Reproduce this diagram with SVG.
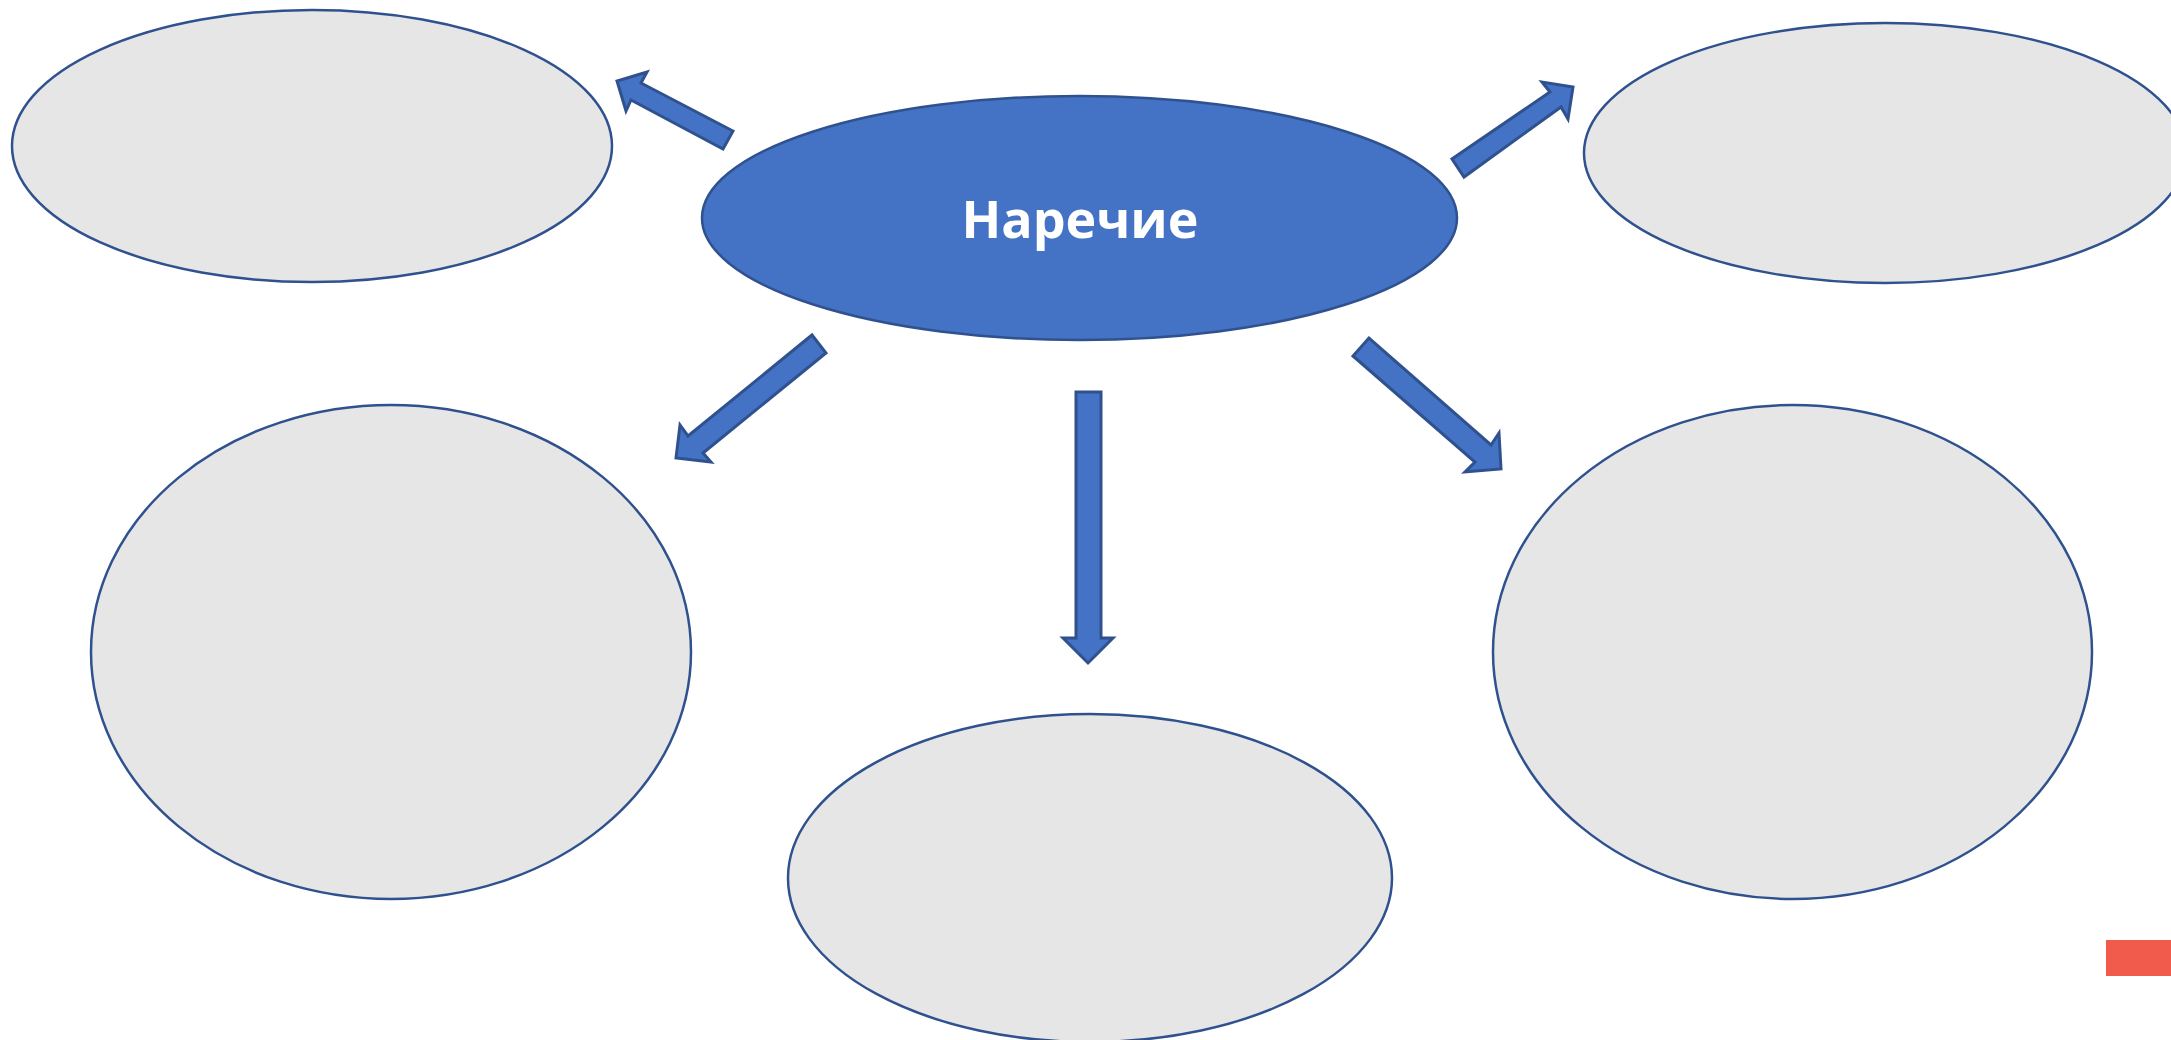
<svg xmlns="http://www.w3.org/2000/svg" width="2171" height="1040" viewBox="0 0 2171 1040">
<style>
.bub{fill:#E7E6E6;stroke:#2F528F;stroke-width:2.5}
.main{fill:#4472C4;stroke:#2F528F;stroke-width:2.5}
.arr{fill:#4472C4;stroke:#2F528F;stroke-width:3;stroke-linejoin:miter}
.lbl{font-family:"Open Sans","Noto Sans","DejaVu Sans",sans-serif;font-weight:bold;font-size:52px;fill:#FFFFFF}
</style>
<rect width="2171" height="1040" fill="#FFFFFF"/>
<g id="node-top-left"><ellipse class="bub" cx="312" cy="146" rx="300" ry="136"/></g>
<g id="node-top-right"><ellipse class="bub" cx="1885" cy="153" rx="301" ry="130"/></g>
<g id="node-mid-left"><ellipse class="bub" cx="391" cy="652" rx="300" ry="247"/></g>
<g id="node-mid-right"><ellipse class="bub" cx="1792.5" cy="652" rx="299.5" ry="247"/></g>
<g id="node-bottom"><ellipse class="bub" cx="1090" cy="878" rx="302" ry="164"/></g>
<g id="node-center">
<ellipse class="main" cx="1079.5" cy="218" rx="377.5" ry="122"/>
<text class="lbl" x="1080" y="238" text-anchor="middle">Наречие</text>
</g>
<g id="connectors">
<polygon class="arr" points="733,131 723,149 631,100 626,111 617,81 647,72 641,83"/>
<polygon class="arr" points="1452,159 1464,177 1561,107 1568,119 1573,87 1542,82 1550,92"/>
<polygon class="arr" points="812,335 826,353 703,453 711,462 676,458 680,425 688,436"/>
<polygon class="arr" points="1369,338 1353,356 1475,462 1465,472 1501,469 1499,433 1491,445"/>
<polygon class="arr" points="1076,392 1101,392 1101,638 1113,638 1088,663 1063,638 1076,638"/>
</g>
<rect id="red-mark" x="2106" y="940" width="65" height="36" fill="#F15B4C"/>
</svg>
